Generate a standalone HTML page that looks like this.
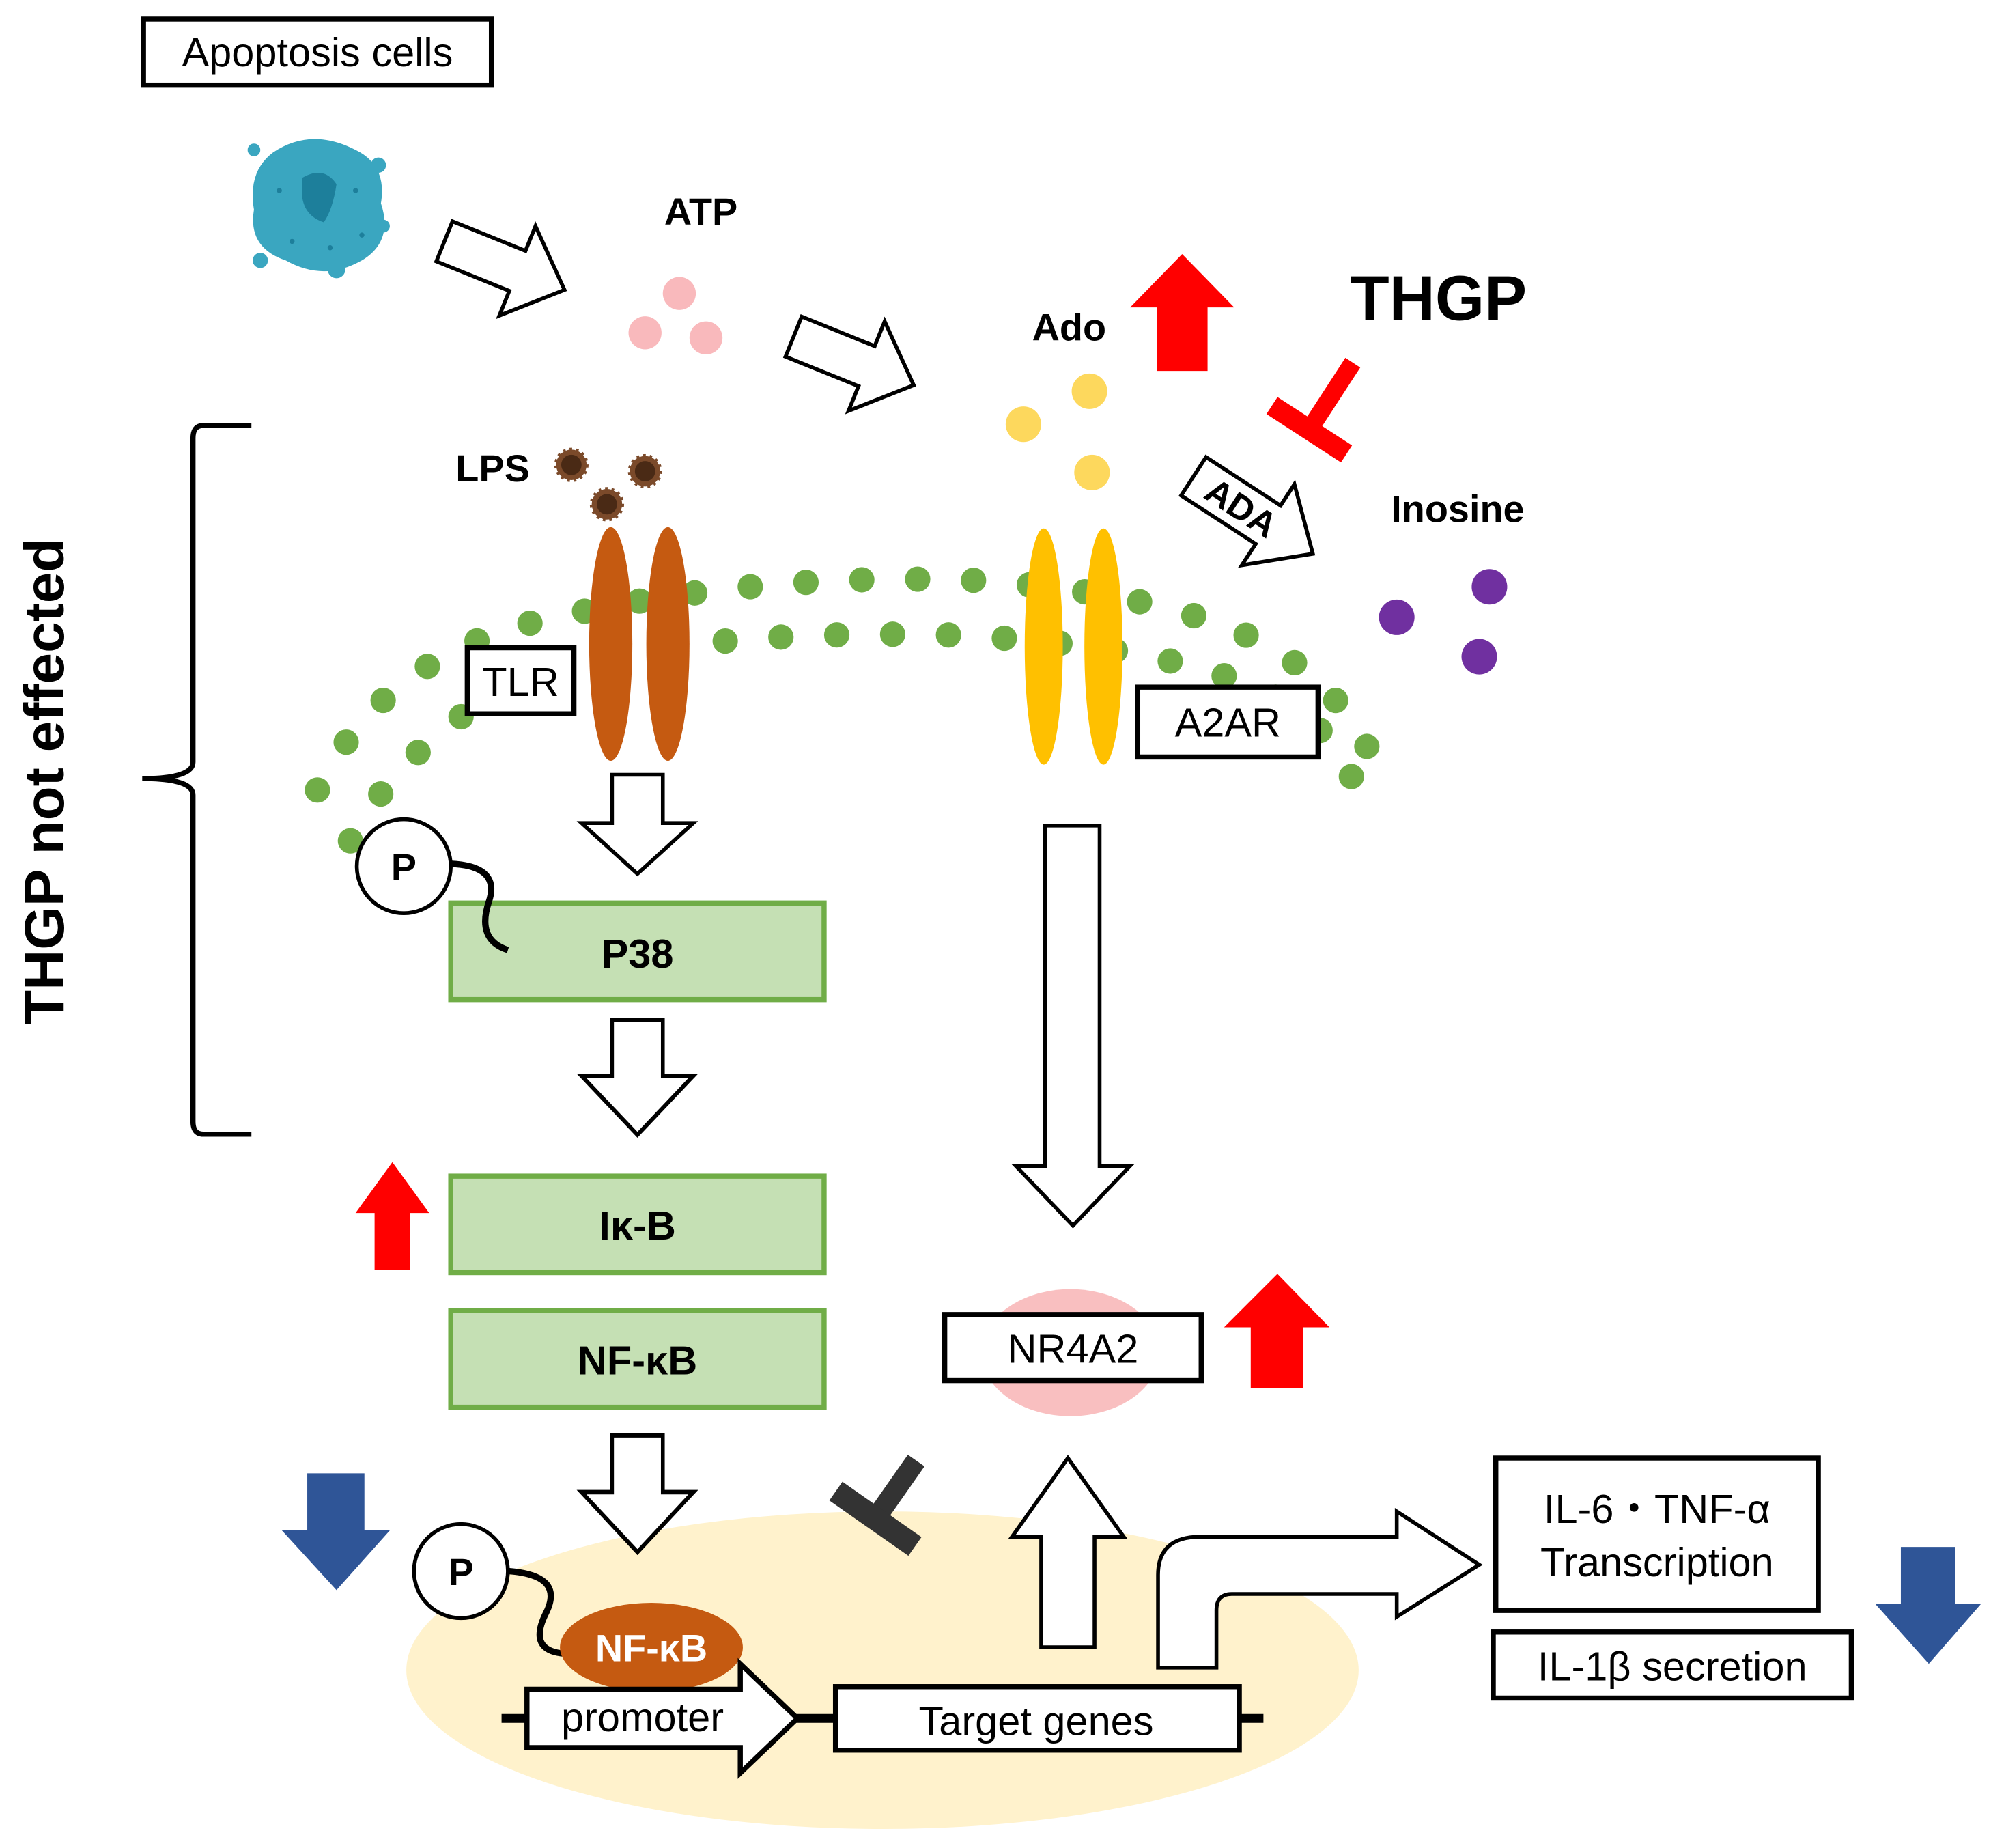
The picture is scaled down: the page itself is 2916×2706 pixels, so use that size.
<!DOCTYPE html>
<html><head><meta charset="utf-8"><style>
html,body{margin:0;padding:0;background:#fff}
svg{display:block}
text{font-family:"Liberation Sans",Arial,sans-serif}
</style></head><body>
<svg width="2916" height="2706" viewBox="0 0 1568 1455" xmlns="http://www.w3.org/2000/svg">
<defs>
<g id="darr"><polygon points="-20,0 20,0 20,38 44,38 0,78 -44,38 -20,38" fill="#fff" stroke="#000" stroke-width="3"/></g>
</defs>
<rect width="1568" height="1455" fill="#fff"/>
<!-- Apoptosis box -->
<rect x="113" y="15" width="274" height="52" fill="#fff" stroke="#000" stroke-width="4"/>
<text x="250" y="52" font-size="32" text-anchor="middle">Apoptosis cells</text>
<!-- cell icon -->
<g fill="#3aa6c0">
<path d="M215,120 Q245,100 280,118 Q305,130 300,160 Q310,190 285,205 Q255,222 225,205 Q195,195 200,165 Q195,135 215,120Z"/>
<circle cx="200" cy="118" r="5"/><circle cx="298" cy="130" r="6"/><circle cx="205" cy="205" r="6"/><circle cx="265" cy="212" r="7"/><circle cx="302" cy="178" r="5"/>
</g>
<path d="M238,140 Q255,130 265,145 Q262,165 255,175 Q240,170 238,155Z" fill="#1d7f9b"/>
<g fill="#1d7f9b"><circle cx="220" cy="150" r="2"/><circle cx="280" cy="150" r="2"/><circle cx="230" cy="190" r="2"/><circle cx="285" cy="185" r="2"/><circle cx="260" cy="195" r="2"/></g>
<!-- hollow arrows -->
<polygon points="0,-17 62,-17 62,-38 102,0 62,38 62,17 0,17" fill="#fff" stroke="#000" stroke-width="3" transform="translate(350,190) rotate(22)"/>
<polygon points="0,-17 62,-17 62,-38 102,0 62,38 62,17 0,17" fill="#fff" stroke="#000" stroke-width="3" transform="translate(625,265) rotate(22)"/>
<!-- ATP -->
<text x="552" y="177" font-size="30" font-weight="bold" text-anchor="middle">ATP</text>
<g fill="#f9b9bc"><circle cx="535" cy="231" r="13"/><circle cx="508" cy="262" r="13"/><circle cx="556" cy="266" r="13"/></g>
<!-- Ado -->
<text x="842" y="268" font-size="30" font-weight="bold" text-anchor="middle">Ado</text>
<polygon points="911,292 951,292 951,242 972,242 931,200 890,242 911,242" fill="#f00"/>
<text x="1133" y="252" font-size="50" font-weight="bold" text-anchor="middle">THGP</text>
<g transform="translate(1030,340) rotate(33)" fill="#f00"><rect x="-7" y="-65" width="14" height="60"/><rect x="-35" y="-10" width="70" height="16"/></g>
<g fill="#fdd85d"><circle cx="858" cy="308" r="14"/><circle cx="806" cy="334" r="14"/><circle cx="860" cy="372" r="14"/></g>
<!-- ADA -->
<g transform="translate(940,375) rotate(33)">
<polygon points="0,-18 70,-18 70,-38 112,0 70,38 70,18 0,18" fill="#fff" stroke="#000" stroke-width="3"/>
<text x="45" y="10" font-size="28" font-weight="bold" text-anchor="middle">ADA</text></g>
<text x="1148" y="411" font-size="30" font-weight="bold" text-anchor="middle">Inosine</text>
<g fill="#7030a0"><circle cx="1100" cy="486" r="14"/><circle cx="1173" cy="462" r="14"/><circle cx="1165" cy="517" r="14"/></g>
<!-- LPS -->
<text x="388" y="379" font-size="30" font-weight="bold" text-anchor="middle">LPS</text>
<g fill="#7b4a2a" stroke="#7b4a2a" stroke-width="3" stroke-dasharray="2 3">
<circle cx="450" cy="366" r="12"/><circle cx="508" cy="371" r="12"/><circle cx="478" cy="397" r="12"/></g>
<g fill="#4a2a15"><circle cx="450" cy="366" r="8"/><circle cx="508" cy="371" r="8"/><circle cx="478" cy="397" r="8"/></g>
<!-- membrane dots -->
<g fill="none" stroke="#70ad47" stroke-width="20" stroke-linecap="round" stroke-dasharray="0 44">
<path d="M250,622 Q300,520 420,490 Q590,450 770,457 Q960,470 1030,530 Q1075,570 1080,600"/>
<path d="M276,662 Q320,580 420,530 Q550,495 750,500 Q960,510 1030,565 Q1065,600 1072,634"/>
</g>
<!-- receptors -->
<g fill="#c55a11"><ellipse cx="481" cy="507" rx="17" ry="92"/><ellipse cx="526" cy="507" rx="17" ry="92"/></g>
<g fill="#ffc000"><ellipse cx="822" cy="509" rx="15" ry="93"/><ellipse cx="869" cy="509" rx="15" ry="93"/></g>
<rect x="368" y="510" width="84" height="52" fill="#fff" stroke="#000" stroke-width="4"/>
<text x="410" y="548" font-size="32" text-anchor="middle">TLR</text>
<rect x="896" y="541" width="142" height="55" fill="#fff" stroke="#000" stroke-width="4"/>
<text x="967" y="580" font-size="32" text-anchor="middle">A2AR</text>
<!-- bracket -->
<path d="M198,335 L160,335 Q152,335 152,345 L152,600 Q152,613 112,613 Q152,613 152,626 L152,883 Q152,893 160,893 L198,893" fill="none" stroke="#000" stroke-width="4"/>
<text transform="translate(50,615) rotate(-90)" font-size="44" font-weight="bold" text-anchor="middle">THGP not effected</text>
<!-- left chain -->
<use href="#darr" transform="translate(502,610)"/>
<rect x="355" y="711" width="294" height="76" fill="#c5e0b4" stroke="#70ad47" stroke-width="4"/>
<text x="502" y="762" font-size="32" font-weight="bold" text-anchor="middle">P38</text>
<path d="M350,680 Q395,680 385,710 Q375,740 400,748" fill="none" stroke="#000" stroke-width="5"/>
<circle cx="318" cy="682" r="37" fill="#fff" stroke="#000" stroke-width="3"/>
<text x="318" y="693" font-size="30" font-weight="bold" text-anchor="middle">P</text>
<use href="#darr" transform="translate(502,803) scale(1,1.16)"/>
<polygon points="295,1000 323,1000 323,955 338,955 309,915 280,955 295,955" fill="#f00"/>
<rect x="355" y="926" width="294" height="76" fill="#c5e0b4" stroke="#70ad47" stroke-width="4"/>
<text x="502" y="976" font-size="32" font-weight="bold" text-anchor="middle">Iκ-B</text>
<rect x="355" y="1032" width="294" height="76" fill="#c5e0b4" stroke="#70ad47" stroke-width="4"/>
<text x="502" y="1082" font-size="32" font-weight="bold" text-anchor="middle">NF-κB</text>
<!-- right long arrow -->
<polygon points="823,650 866,650 866,918 890,918 845,965 800,918 823,918" fill="#fff" stroke="#000" stroke-width="3"/>
<ellipse cx="843" cy="1065" rx="70" ry="50" fill="#f9bfc0"/>
<rect x="744" y="1035" width="202" height="52" fill="#fff" stroke="#000" stroke-width="4"/>
<text x="845" y="1073" font-size="32" text-anchor="middle">NR4A2</text>
<polygon points="985,1093 1026,1093 1026,1045 1047,1045 1006,1003 964,1045 985,1045" fill="#f00"/>
<!-- blue arrows -->
<polygon points="242,1160 287,1160 287,1205 307,1205 265,1252 222,1205 242,1205" fill="#2f5597"/>
<polygon points="1497,1218 1540,1218 1540,1263 1560,1263 1519,1310 1477,1263 1497,1263" fill="#2f5597"/>
<!-- nucleus -->
<ellipse cx="695" cy="1315" rx="375" ry="125" fill="#fff2cc"/>
<use href="#darr" transform="translate(502,1130) scale(1,1.18)"/>
<g transform="translate(690,1195) rotate(35)" fill="#333"><rect x="-8" y="-55" width="16" height="52"/><rect x="-38" y="-8" width="76" height="18"/></g>
<path d="M400,1237 Q445,1240 430,1270 Q415,1300 445,1302" fill="none" stroke="#000" stroke-width="5"/>
<ellipse cx="513" cy="1297" rx="72" ry="35" fill="#c55a11"/>
<text x="513" y="1308" font-size="30" font-weight="bold" fill="#fff" text-anchor="middle">NF-κB</text>
<circle cx="363" cy="1237" r="37" fill="#fff" stroke="#000" stroke-width="3"/>
<text x="363" y="1248" font-size="30" font-weight="bold" text-anchor="middle">P</text>
<line x1="395" y1="1353" x2="995" y2="1353" stroke="#000" stroke-width="7"/>
<polygon points="415,1330 583,1330 583,1310 628,1353 583,1396 583,1376 415,1376" fill="#fff" stroke="#000" stroke-width="4"/>
<text x="506" y="1363" font-size="32" text-anchor="middle">promoter</text>
<rect x="658" y="1328" width="318" height="50" fill="#fff" stroke="#000" stroke-width="4"/>
<text x="816" y="1366" font-size="32" text-anchor="middle">Target genes</text>
<polygon points="820,1297 862,1297 862,1210 885,1210 841,1148 797,1210 820,1210" fill="#fff" stroke="#000" stroke-width="3"/>
<path d="M912,1313 L912,1240 Q912,1210 945,1210 L1100,1210 L1100,1190 L1165,1232 L1100,1273 L1100,1255 L970,1255 Q958,1255 958,1268 L958,1313 Z" fill="#fff" stroke="#000" stroke-width="3"/>
<rect x="1178" y="1148" width="254" height="120" fill="#fff" stroke="#000" stroke-width="4"/>
<text x="1305" y="1199" font-size="32" text-anchor="middle">IL-6・TNF-α</text>
<text x="1305" y="1241" font-size="32" text-anchor="middle">Transcription</text>
<rect x="1176" y="1285" width="282" height="52" fill="#fff" stroke="#000" stroke-width="4"/>
<text x="1317" y="1323" font-size="32" text-anchor="middle">IL-1β secretion</text>
</svg>
</body></html>
